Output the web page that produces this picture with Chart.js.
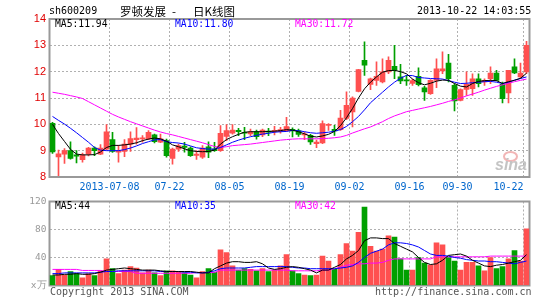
<!DOCTYPE html>
<html>
<head>
<meta charset="utf-8">
<script src="https://cdn.jsdelivr.net/npm/chart.js@4/dist/chart.umd.min.js"></script>
<style>
body { margin: 0; background: #fff; }
#wrap { position: relative; width: 545px; height: 300px; overflow: hidden; font-family: "DejaVu Sans Mono", monospace; }
#wrap canvas { position: absolute; left: 0; }
.t { position: absolute; white-space: pre; line-height: 12px; font-size: 10px; }
.cjk { font-family: "Noto Sans CJK SC", sans-serif; font-size: 11.5px; line-height: 12px; }
.lg { font-size: 9.7px; }
</style>
</head>
<body>
<div id="wrap">
  <canvas id="priceChart" width="545" height="200" style="top:0"></canvas>
  <canvas id="volChart" width="545" height="110" style="top:190px"></canvas>

  <span class="t" style="left:49px;top:5px;color:#000">sh600209</span>
  <span class="t cjk" style="left:120px;top:5px;color:#000">罗顿发展</span>
  <span class="t cjk" style="left:172px;top:5px;color:#000">-</span>
  <span class="t cjk" style="left:193px;top:5px;color:#000">日K线图</span>
  <span class="t" style="left:417px;top:5px;color:#000">2013-10-22 14:03:55</span>

  <span class="t lg" style="left:55px;top:18px;color:#000">MA5:11.94</span>
  <span class="t lg" style="left:175px;top:18px;color:#0000ff">MA10:11.80</span>
  <span class="t lg" style="left:295px;top:18px;color:#ff00ff">MA30:11.72</span>

  <span class="t lg" style="left:55px;top:200px;color:#000">MA5:44</span>
  <span class="t lg" style="left:175px;top:200px;color:#0000ff">MA10:35</span>
  <span class="t lg" style="left:295px;top:200px;color:#ff00ff">MA30:42</span>

  <div style="position:absolute;left:503px;top:151px;width:11px;height:7px;border:2px solid #f2b6b6;border-radius:50%"></div>
  <span class="t" style="left:495px;top:156px;font:italic bold 16px 'Liberation Sans',sans-serif;color:#c4c4c4">sina</span>

  <span class="t" style="left:50px;top:286px;color:#555">Copyright 2013 SINA.COM</span>
  <span class="t" style="left:375px;top:286px;color:#555">http://finance.sina.com.cn</span>
</div>
<script>
const dates = [
  '2013-06-24','2013-06-25','2013-06-26','2013-06-27','2013-06-28',
  '2013-07-01','2013-07-02','2013-07-03','2013-07-04','2013-07-05',
  '2013-07-08','2013-07-09','2013-07-10','2013-07-11','2013-07-12',
  '2013-07-15','2013-07-16','2013-07-17','2013-07-18','2013-07-19',
  '2013-07-22','2013-07-23','2013-07-24','2013-07-25','2013-07-26',
  '2013-07-29','2013-07-30','2013-07-31','2013-08-01','2013-08-02',
  '2013-08-05','2013-08-06','2013-08-07','2013-08-08','2013-08-09',
  '2013-08-12','2013-08-13','2013-08-14','2013-08-15','2013-08-16',
  '2013-08-19','2013-08-20','2013-08-21','2013-08-22','2013-08-23',
  '2013-08-26','2013-08-27','2013-08-28','2013-08-29','2013-08-30',
  '2013-09-02','2013-09-03','2013-09-04','2013-09-05','2013-09-06',
  '2013-09-09','2013-09-10','2013-09-11','2013-09-12','2013-09-13',
  '2013-09-16','2013-09-17','2013-09-18','2013-09-23','2013-09-24',
  '2013-09-25','2013-09-26','2013-09-27','2013-09-30','2013-10-08',
  '2013-10-09','2013-10-10','2013-10-11','2013-10-14','2013-10-15',
  '2013-10-16','2013-10-17','2013-10-18','2013-10-21','2013-10-22'
];
const axisDates = ['2013-07-08','2013-07-22','2013-08-05','2013-08-19','2013-09-02','2013-09-16','2013-09-30','2013-10-22'];

const opens = [
  10.04, 8.76, 8.87, 9.00, 8.84, 8.66, 8.87, 9.10, 8.87, 9.06,
  9.42, 8.94, 8.97, 9.25, 9.42, 9.45, 9.45, 9.60, 9.32, 9.38,
  8.71, 9.06, 9.17, 9.10, 8.82, 8.75, 9.15, 9.06, 9.00, 9.54,
  9.66, 9.77, 9.70, 9.64, 9.72, 9.60, 9.74, 9.73, 9.73, 9.76,
  9.81, 9.75, 9.60, 9.58, 9.27, 9.29, 9.96, 9.81, 9.80, 10.22,
  10.47, 11.25, 12.43, 11.52, 11.67, 11.61, 11.99, 12.20, 11.80, 11.68,
  11.55, 11.82, 11.39, 11.16, 11.67, 12.03, 12.33, 11.48, 10.91, 11.33,
  11.35, 11.73, 11.61, 11.73, 11.95, 11.52, 11.19, 12.18, 11.80, 11.99
];
const highs = [
  10.08, 9.02, 9.08, 9.34, 9.00, 8.91, 9.13, 9.15, 9.23, 9.99,
  9.70, 9.20, 9.42, 9.72, 9.88, 9.57, 9.76, 9.63, 9.63, 9.44,
  9.10, 9.25, 9.32, 9.15, 9.00, 9.19, 9.34, 9.32, 9.95, 9.99,
  9.99, 9.85, 9.89, 9.82, 9.78, 9.82, 9.85, 9.92, 9.89, 10.27,
  9.87, 9.82, 9.71, 9.62, 9.40, 10.13, 10.03, 9.96, 10.53, 11.23,
  11.04, 12.09, 13.13, 11.76, 12.37, 12.49, 12.56, 13.00, 12.28, 11.86,
  11.72, 12.15, 11.44, 11.70, 12.49, 12.75, 12.66, 11.54, 11.35, 11.99,
  11.92, 11.92, 11.73, 12.18, 12.05, 11.60, 12.05, 12.49, 12.33, 13.15
];
const lows = [
  8.90, 8.05, 8.52, 8.68, 8.53, 8.56, 8.80, 8.81, 8.85, 9.04,
  8.93, 8.56, 8.77, 8.97, 9.25, 9.32, 9.42, 9.29, 9.30, 8.75,
  8.49, 8.97, 8.94, 8.78, 8.67, 8.71, 8.73, 8.97, 8.97, 9.38,
  9.63, 9.57, 9.42, 9.57, 9.44, 9.53, 9.57, 9.60, 9.66, 9.73,
  9.52, 9.54, 9.42, 9.24, 9.11, 9.27, 9.77, 9.58, 9.77, 10.18,
  9.90, 11.23, 11.86, 11.32, 11.48, 11.57, 11.92, 11.73, 11.54, 11.48,
  11.48, 11.46, 10.91, 11.14, 11.39, 11.92, 11.61, 10.51, 10.89, 11.10,
  11.10, 11.42, 11.48, 11.54, 11.65, 10.81, 10.81, 11.92, 11.73, 11.92
];
const closes = [
  8.95, 8.88, 9.00, 8.71, 8.79, 8.84, 9.10, 9.00, 9.10, 9.72,
  8.97, 9.00, 9.25, 9.46, 9.48, 9.47, 9.70, 9.34, 9.45, 8.81,
  9.06, 9.19, 9.12, 8.81, 8.87, 9.10, 8.94, 9.00, 9.66, 9.76,
  9.78, 9.72, 9.66, 9.72, 9.53, 9.78, 9.70, 9.76, 9.80, 9.91,
  9.75, 9.62, 9.62, 9.33, 9.33, 10.03, 10.00, 9.75, 10.24, 10.72,
  11.00, 12.08, 12.25, 11.73, 11.82, 11.99, 12.43, 12.05, 11.65, 11.65,
  11.66, 11.51, 11.23, 11.67, 12.11, 12.11, 11.73, 10.89, 11.32, 11.52,
  11.73, 11.54, 11.67, 11.95, 11.67, 10.97, 12.05, 11.95, 11.95, 13.00
];
const ma5 = [
  10.0, 9.65, 9.35, 9.05, 8.87, 8.84, 8.84, 8.85, 8.95, 9.12,
  9.2, 9.2, 9.22, 9.25, 9.3, 9.38, 9.44, 9.48, 9.45, 9.36,
  9.22, 9.15, 9.07, 9.0, 8.97, 8.96, 8.97, 9.02, 9.25, 9.42,
  9.53, 9.62, 9.7, 9.72, 9.72, 9.72, 9.73, 9.74, 9.76, 9.8,
  9.78, 9.72, 9.64, 9.55, 9.52, 9.56, 9.62, 9.73, 9.95, 10.25,
  10.6, 11.0, 11.35, 11.6, 11.8, 11.98, 12.04, 12.05, 12.0, 11.92,
  11.72, 11.58, 11.5, 11.56, 11.64, 11.68, 11.67, 11.55, 11.45, 11.42,
  11.55, 11.63, 11.66, 11.67, 11.66, 11.55, 11.62, 11.67, 11.75, 11.94
];
const ma10 = [
  10.3, 10.15, 10.01, 9.85, 9.68, 9.5, 9.32, 9.12, 9.02, 9.0,
  9.0, 9.0, 9.04, 9.1, 9.18, 9.27, 9.34, 9.41, 9.42, 9.34,
  9.31, 9.29, 9.25, 9.18, 9.11, 9.08, 9.06, 9.06, 9.12, 9.22,
  9.32, 9.4, 9.47, 9.53, 9.58, 9.63, 9.66, 9.7, 9.72, 9.73,
  9.77, 9.76, 9.72, 9.68, 9.66, 9.68, 9.7, 9.74, 9.8, 9.92,
  10.1, 10.3, 10.55, 10.82, 11.02, 11.22, 11.42, 11.6, 11.75, 11.86,
  11.85, 11.78, 11.76, 11.74, 11.73, 11.72, 11.66, 11.6, 11.55, 11.56,
  11.58, 11.6, 11.62, 11.63, 11.6, 11.55, 11.6, 11.68, 11.74, 11.8
];
const ma30 = [
  11.22, 11.18, 11.14, 11.09, 11.04, 10.98, 10.86, 10.74, 10.62, 10.5,
  10.38, 10.28, 10.19, 10.1, 10.02, 9.94, 9.86, 9.78, 9.71, 9.65,
  9.6, 9.54, 9.48, 9.42, 9.36, 9.3, 9.23, 9.16, 9.12, 9.15,
  9.19, 9.21, 9.23, 9.25, 9.28, 9.31, 9.34, 9.37, 9.4, 9.42,
  9.44, 9.45, 9.45, 9.45, 9.45, 9.46, 9.47, 9.49, 9.52, 9.58,
  9.67, 9.75, 9.83, 9.9, 10.0, 10.1, 10.22, 10.32, 10.4, 10.48,
  10.53, 10.58, 10.63, 10.68, 10.74, 10.8, 10.87, 10.93, 11.0, 11.08,
  11.15, 11.22, 11.3, 11.37, 11.44, 11.5, 11.56, 11.62, 11.67, 11.72
];

// volume, unit: 10k shares
const volumes = [
  14, 23, 15, 20, 17, 11, 17, 14, 21, 38,
  24, 17, 22, 27, 25, 18, 22, 18, 14, 21,
  21, 20, 18, 15, 11, 20, 24, 19, 51, 47,
  28, 22, 24, 23, 21, 24, 20, 22, 28, 44,
  21, 17, 15, 14, 15, 42, 35, 23, 44, 60,
  49, 76, 112, 56, 49, 52, 71, 69, 38, 22,
  22, 40, 32, 29, 61, 58, 40, 35, 22, 33,
  33, 28, 21, 40, 24, 27, 38, 50, 35, 81
];
const volMa5 = [
  15, 15, 16, 16, 17, 16, 16, 17, 19, 22,
  23, 24, 25, 24, 23, 22, 22, 22, 21, 20,
  20, 20, 20, 20, 19, 18, 18, 24, 28, 32,
  34, 34, 33, 33, 34, 31, 25, 23, 24, 26,
  27, 26, 24, 22, 18, 22, 22, 26, 30, 38,
  43, 50, 64, 68, 68, 67, 67, 60, 56, 52,
  48, 40, 33, 30, 31, 36, 43, 44, 45, 42,
  36, 32, 28, 27, 29, 30, 32, 34, 36, 44
];
const volMa10 = [
  17, 17, 18, 18, 18, 18, 18, 18, 19, 20,
  20, 21, 21, 21, 21, 21, 21, 21, 20, 20,
  20, 20, 19, 19, 18, 18, 19, 21, 24, 25,
  25, 25, 25, 26, 27, 27, 27, 27, 27, 27,
  26, 25, 25, 24, 24, 24, 24, 24, 25, 26,
  28, 33, 40, 46, 49, 52, 58, 61, 61, 60,
  58, 55, 50, 45, 43, 43, 42, 40, 39, 37,
  36, 35, 35, 34, 34, 33, 32, 31, 33, 35
];
const volMa30 = [
  23, 23, 23, 23, 23, 21.5, 21.5, 21.5, 21.5, 20,
  20, 20, 20, 20, 17.5, 17.5, 17.5, 17.5, 17.5, 17.5,
  17.5, 17.5, 17.5, 17.5, 18.5, 18.5, 18.5, 18.5, 22, 22,
  22, 22, 22, 22, 22, 22, 22, 22, 22, 22,
  21, 21, 21, 21, 21, 22, 22, 24, 26, 29,
  30, 31, 31, 32, 32, 33, 36, 38, 38, 38,
  38, 38, 38, 38, 41, 41, 41, 41, 41, 41,
  41, 41, 41, 42, 42, 42, 42, 42, 42, 42
];

const UP = '#ff5050', DOWN = '#00a000';
const candleColors = closes.map((c, i) => c >= opens[i] ? UP : DOWN);
const mono = 'DejaVu Sans Mono';

const frame = {
  id: 'frame',
  beforeDatasetsDraw(chart) {
    const { ctx, chartArea: a } = chart;
    ctx.save();
    ctx.strokeStyle = '#999';
    ctx.lineWidth = 2;
    ctx.strokeRect(a.left, a.top, a.right - a.left, a.bottom - a.top);
    ctx.restore();
  }
};

function xScale(showLabels, height) {
  return {
    offset: true,
    grid: {
      offset: true,
      drawTicks: false,
      color: c => (c.index !== undefined && axisDates.includes(dates[c.index])) ? '#b0b0b0' : 'rgba(0,0,0,0)'
    },
    border: { display: false, dash: [2, 2] },
    ticks: {
      display: showLabels,
      autoSkip: false,
      maxRotation: 0,
      padding: 4,
      labelOffset: -3,
      color: '#0066cc',
      font: { family: mono, size: 10 },
      callback: function (v, i) {
        const d = dates[i];
        if (!axisDates.includes(d)) return '';
        let s = d === axisDates[0] ? d : d.slice(5);
        if (i === dates.length - 1) s = s + '     ';
        return s;
      }
    },
    afterFit: s => { s.height = height; s.paddingLeft = 0; s.paddingRight = 0; }
  };
}

function line(data, color) {
  return { type: 'line', data: data, borderColor: color, borderWidth: 1, pointRadius: 0, tension: 0, order: 0 };
}

new Chart(document.getElementById('priceChart'), {
  type: 'bar',
  data: {
    labels: dates,
    datasets: [
      line(ma5, '#000000'),
      line(ma10, '#0000ff'),
      line(ma30, '#ff00ff'),
      {
        data: lows.map((l, i) => [l, highs[i]]),
        backgroundColor: candleColors,
        barThickness: 1, grouped: false, order: 2
      },
      {
        data: opens.map((o, i) => [o, closes[i]]),
        backgroundColor: candleColors,
        barThickness: 5, minBarLength: 1, grouped: false, order: 1
      }
    ]
  },
  options: {
    responsive: false,
    animation: false,
    layout: { padding: { left: 0, right: 15.5, top: 19, bottom: 0 } },
    plugins: { legend: { display: false }, tooltip: { enabled: false } },
    scales: {
      x: xScale(true, 23),
      y: {
        min: 8, max: 14,
        ticks: {
          stepSize: 1, padding: 3.5, color: '#e00000',
          font: { family: 'Liberation Sans', size: 11 }
        },
        grid: { drawTicks: false, color: '#b0b0b0' },
        border: { display: false, dash: [2, 2] },
        afterFit: s => { s.width = 49.5; }
      }
    }
  },
  plugins: [frame]
});

new Chart(document.getElementById('volChart'), {
  type: 'bar',
  data: {
    labels: dates,
    datasets: [
      line(volMa5, '#000000'),
      line(volMa10, '#0000ff'),
      line(volMa30, '#ff00ff'),
      {
        data: volumes,
        backgroundColor: candleColors,
        barThickness: 5, order: 1
      }
    ]
  },
  options: {
    responsive: false,
    animation: false,
    layout: { padding: { left: 0, right: 15.5, top: 11.5, bottom: 0 } },
    plugins: { legend: { display: false }, tooltip: { enabled: false } },
    scales: {
      x: xScale(false, 14.5),
      y: {
        min: 0, max: 120,
        ticks: {
          stepSize: 40, padding: 3, color: '#999',
          font: { family: mono, size: 9.5 },
          callback: v => v === 0 ? 'x万' : v
        },
        grid: { drawTicks: false, color: '#b0b0b0' },
        border: { display: false, dash: [2, 2] },
        afterFit: s => { s.width = 49.5; }
      }
    }
  },
  plugins: [frame]
});
</script>
</body>
</html>
